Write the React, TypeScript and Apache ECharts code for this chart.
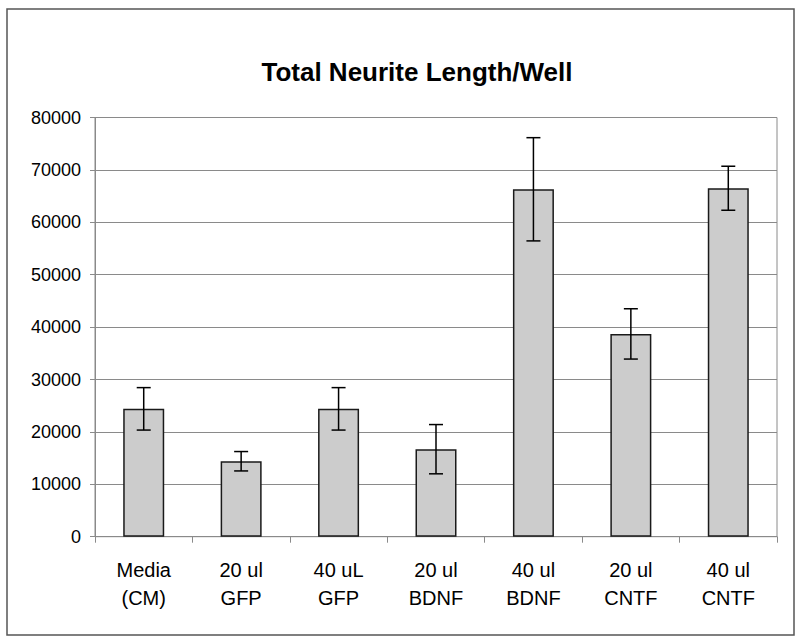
import React, { useEffect, useRef } from "react";
import * as echarts from "echarts";

const titleText = "Total Neurite Length/Well";
const categories = [
  "Media\n(CM)",
  "20 ul\nGFP",
  "40 uL\nGFP",
  "20 ul\nBDNF",
  "40 ul\nBDNF",
  "20 ul\nCNTF",
  "40 ul\nCNTF",
];
const means = [24400, 14400, 24400, 16700, 66300, 38700, 66500];
const errors = [4050, 1850, 4050, 4700, 9850, 4800, 4200];
const yMin = 0;
const yMax = 80000;
const yInterval = 10000;

const FONT = "'Liberation Sans', Arial, sans-serif";

export default function App() {
  const ref = useRef<HTMLDivElement>(null);
  useEffect(() => {
    if (!ref.current) return;
    const chart = echarts.init(ref.current, null, { renderer: "svg" });
    const errData = means.map((m, i) => [i, m - errors[i], m + errors[i]]);
    chart.setOption({
      animation: false,
      backgroundColor: "#ffffff",
      textStyle: { fontFamily: FONT },
      graphic: [
        {
          type: "rect",
          shape: { x: 7, y: 9, width: 787, height: 626 },
          style: { fill: "none", stroke: "#555555", lineWidth: 1.5 },
          silent: true,
        },
        {
          type: "text",
          x: 417,
          y: 72,
          style: {
            text: titleText,
            fontFamily: FONT,
            fontSize: 26,
            fontWeight: "bold",
            fill: "#000000",
            textAlign: "center",
            textVerticalAlign: "middle",
          },
        },
      ],
      grid: {
        left: 95,
        right: 23,
        top: 117.5,
        bottom: 105.3,
        show: true,
        borderColor: "#8a8a8a",
        borderWidth: 1,
        backgroundColor: "transparent",
      },
      xAxis: {
        type: "category",
        data: categories,
        axisLine: { show: true, lineStyle: { color: "#8a8a8a", width: 1 } },
        axisTick: {
          show: true,
          alignWithLabel: false,
          length: 6,
          lineStyle: { color: "#8a8a8a" },
        },
        axisLabel: {
          color: "#000000",
          fontSize: 20,
          fontFamily: FONT,
          lineHeight: 28,
          margin: 19,
          interval: 0,
        },
      },
      yAxis: {
        type: "value",
        min: yMin,
        max: yMax,
        interval: yInterval,
        axisLine: { show: true, lineStyle: { color: "#8a8a8a", width: 1 } },
        axisTick: { show: true, length: 5, lineStyle: { color: "#8a8a8a" } },
        axisLabel: {
          color: "#000000",
          fontSize: 18,
          fontFamily: FONT,
          margin: 14,
          formatter: (v: number) => String(v),
        },
        splitLine: { show: true, lineStyle: { color: "#8a8a8a", width: 1 } },
      },
      series: [
        {
          type: "bar",
          data: means,
          barWidth: 41,
          itemStyle: {
            color: "#cccccc",
            borderColor: "#1a1a1a",
            borderWidth: 1.5,
          },
          z: 2,
        },
        {
          type: "custom",
          data: errData,
          encode: { x: 0, y: [1, 2] },
          z: 3,
          renderItem: (params: any, api: any) => {
            const x = api.value(0);
            const lo = api.coord([x, api.value(1)]);
            const hi = api.coord([x, api.value(2)]);
            const hw = 7;
            const style = { stroke: "#000000", lineWidth: 1.5 };
            return {
              type: "group",
              children: [
                { type: "line", shape: { x1: lo[0], y1: lo[1], x2: hi[0], y2: hi[1] }, style },
                { type: "line", shape: { x1: lo[0] - hw, y1: lo[1], x2: lo[0] + hw, y2: lo[1] }, style },
                { type: "line", shape: { x1: hi[0] - hw, y1: hi[1], x2: hi[0] + hw, y2: hi[1] }, style },
              ],
            };
          },
        },
      ],
    });
    return () => chart.dispose();
  }, []);
  return (
    <div
      ref={ref}
      style={{ position: "absolute", left: 0, top: 0, width: 800, height: 642 }}
    />
  );
}
